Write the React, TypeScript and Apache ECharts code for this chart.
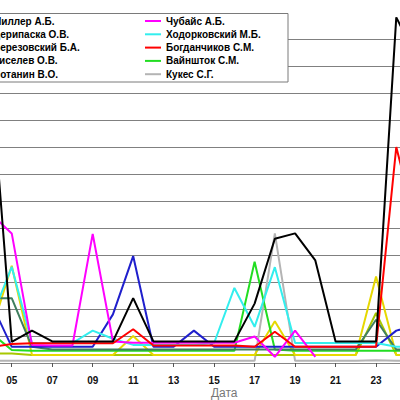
import React, { useEffect, useRef } from "react";
import * as echarts from "echarts";

const days = ["04","05","06","07","08","09","10","11","12","13","14","15","16","17","18","19","20","21","22","23","24","25","26","27"];

const leftNames = ["Миллер А.Б.", "Дерипаска О.В.", "Березовский Б.А.", "Киселев О.В.", "Потанин В.О."];
const rightNames = ["Чубайс А.Б.", "Ходорковский М.Б.", "Богданчиков С.М.", "Вайншток С.М.", "Кукес С.Г."];

const miller = [104, 7.8, 12, 8, 8, 8, 8, 24, 8, 8, 8, 8, 8, 22, 46, 48, 38, 8, 8, 8, 128, 113, null, null];
const deripaska = [22, 6, 6, 6, 6, 6, 18, 39.6, 6, 6, 12, 6, 6, 6, 6, 6, 6, 6, 6, 6, 12, 14, null, null];
const berezovsky = [12, 36, 3, 3, 3, 3, 3, 10, 3, 3, 3, 3, 3, 3, 15.5, 3, 3, 3, 3, 32, 3, 3, null, null];
const kiselev = [24, 24, 6, 5, 5, 5, 5, 5, 5, 5, 5, 5, 5, 5, 5, 5, 5, 5, 5, 16, 5, 5, null, null];
const potanin = [3.5, 3.5, 3, 3, 3, 3, 3, 3, 3, 3, 3, 3, 3, 3, 3, 3, 3, 3, 3, 18.5, 3, 3, null, null];
const chubais = [55, 48, 6.7, 6.5, 6.5, 47.8, 8, 7.5, 7.5, 7.5, 7.5, 7.5, 7.5, 9.8, 2.3, 12, 2.3, null, null, null, null, null, null, null];
const khodorkovsky = [16.6, 35.6, 7.4, 7.4, 7.4, 12, 9, 6.7, 6.7, 6.7, 6.7, 7.4, 27.8, 13.4, 35.5, 7.4, 7.4, 7.4, 7.4, 7.4, 6, 6, null, null];
const bogdanchikov = [6, 7, 7.3, 7.3, 7.3, 7.3, 7.3, 12.5, 6.5, 6.5, 6.5, 6.5, 6.5, 6, 11.6, 6, 6, 6, 6, 6, 80, 50, null, null];
const vainshtok = [11, 4.8, 4.5, 4.5, 4.5, 4.5, 4.5, 4.5, 4.5, 4.5, 4.5, 4.5, 4.5, 37.5, 5, 4.5, 4.5, 4.5, 4.5, 4.5, 4.5, 4.5, null, null];
const kukes = [0.8, 0.8, 0.8, 0.8, 0.8, 0.8, 0.8, 0.8, 0.8, 0.8, 0.8, 0.8, 0.8, 0.8, 48, 0.8, 0.8, 0.8, 0.8, 1, 0.8, 0.8, null, null];

const FONT = "'Liberation Sans', Arial, sans-serif";

export default function App() {
  const ref = useRef<HTMLDivElement>(null);
  useEffect(() => {
    if (!ref.current) return;
    const chart = echarts.init(ref.current, null, { renderer: "svg" });
    const mk = (name: string, data: (number | null)[], color: string) => ({
      name,
      type: "line",
      data,
      symbol: "none",
      showSymbol: false,
      connectNulls: false,
      lineStyle: { color, width: 2 },
      itemStyle: { color },
    });
    const labelDay = (_i: number, v: string) => {
      const d = parseInt(v, 10);
      return d % 2 === 1 && d <= 23;
    };
    const legendCommon = {
      orient: "vertical",
      top: 16,
      itemWidth: 16,
      itemHeight: 10,
      itemGap: 3.3,
      padding: 0,
      selectedMode: false,
      itemStyle: { opacity: 0 },
      textStyle: { fontSize: 10, fontWeight: "bold", color: "#000", fontFamily: FONT },
      z: 5,
    };
    chart.setOption({
      animation: false,
      backgroundColor: "#fff",
      grid: { left: -8.5, right: -57, top: 12, bottom: 37, containLabel: false, outerBoundsMode: "none" },
      graphic: [
        {
          type: "rect",
          z: 4,
          shape: { x: -20, y: 13.5, width: 308, height: 68.5 },
          style: { fill: "#fff", stroke: "#7a7a7a", lineWidth: 1 },
        },
      ],
      legend: [
        { ...legendCommon, left: -29, data: leftNames },
        { ...legendCommon, left: 144, data: rightNames },
      ],
      xAxis: {
        type: "category",
        boundaryGap: false,
        data: days,
        name: "Дата",
        nameLocation: "middle",
        nameGap: 24,
        nameMoveOverlap: false,
        nameTextStyle: { color: "#777", fontSize: 12, fontFamily: FONT },
        axisLine: { lineStyle: { color: "#888", width: 1 } },
        axisTick: { show: true, interval: labelDay, length: 4, lineStyle: { color: "#555" } },
        axisLabel: { interval: labelDay, fontSize: 10, fontWeight: "bold", color: "#111", margin: 12, fontFamily: FONT },
        splitLine: { show: false },
      },
      yAxis: {
        type: "value",
        min: 0,
        max: 130,
        interval: 10,
        axisLine: { show: false },
        axisTick: { show: false },
        axisLabel: { show: false },
        splitLine: {
          show: true,
          lineStyle: { color: [...Array(13).fill("#808080"), "rgba(0,0,0,0)"], width: 1 },
        },
      },
      series: [
        mk(rightNames[4], kukes, "#b4b4b4"),
        mk(leftNames[4], potanin, "#a8c800"),
        mk(leftNames[2], berezovsky, "#e6d800"),
        mk(rightNames[3], vainshtok, "#22dd22"),
        mk(leftNames[3], kiselev, "#3f7f5f"),
        mk(leftNames[1], deripaska, "#1f1fcc"),
        mk(rightNames[1], khodorkovsky, "#33eeee"),
        mk(rightNames[0], chubais, "#ff00ff"),
        mk(rightNames[2], bogdanchikov, "#ff0000"),
        mk(leftNames[0], miller, "#000000"),
      ],
    });
    return () => chart.dispose();
  }, []);
  return <div ref={ref} style={{ position: "absolute", left: 0, top: 0, width: 400, height: 400 }} />;
}
